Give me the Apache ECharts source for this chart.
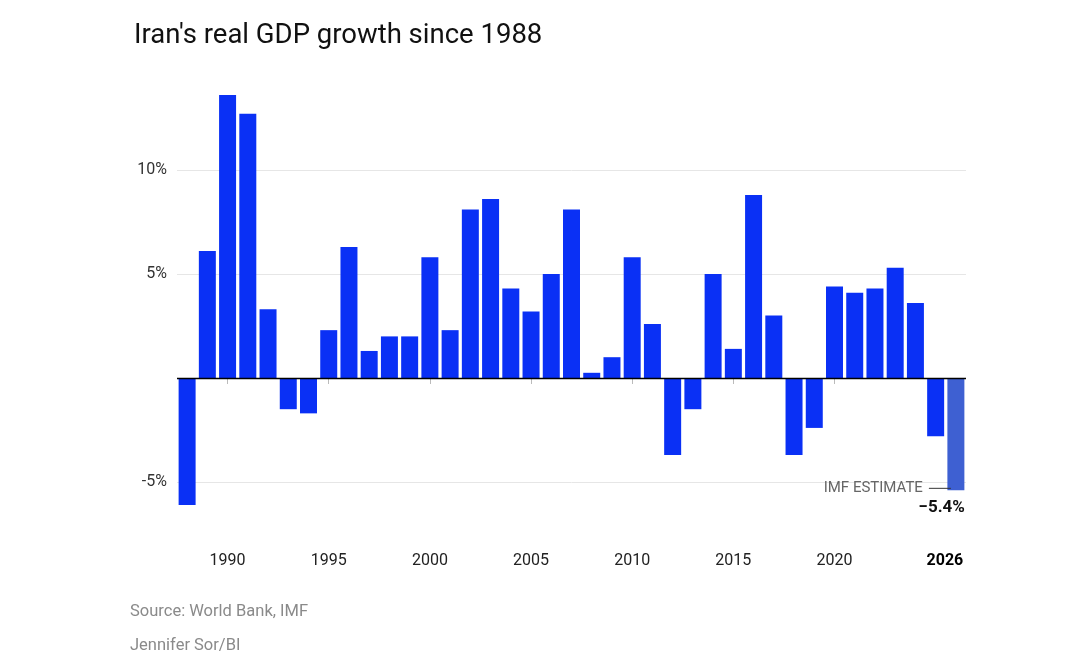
<!DOCTYPE html>
<html>
<head>
<meta charset="utf-8">
<script src="https://cdn.jsdelivr.net/npm/echarts@6/dist/echarts.min.js"></script>
<style>
  html, body { margin: 0; padding: 0; background: #fff; }
  #chart { width: 1067px; height: 656px; }
</style>
</head>
<body>
<div id="chart"></div>
<script>
// Iran real GDP growth, % per year (2026 = IMF estimate)
const years = ['1988', '1989', '1990', '1991', '1992', '1993', '1994', '1995', '1996', '1997',
               '1998', '1999', '2000', '2001', '2002', '2003', '2004', '2005', '2006', '2007',
               '2008', '2009', '2010', '2011', '2012', '2013', '2014', '2015', '2016', '2017',
               '2018', '2019', '2020', '2021', '2022', '2023', '2024', '2025', '2026'];
const growth = [-6.1, 6.1, 13.6, 12.7, 3.3, -1.5, -1.7, 2.3, 6.3, 1.3,
                2.0, 2.0, 5.8, 2.3, 8.1, 8.6, 4.3, 3.2, 5.0, 8.1,
                0.25, 1.0, 5.8, 2.6, -3.7, -1.5, 5.0, 1.4, 8.8, 3.0,
                -3.7, -2.4, 4.4, 4.1, 4.3, 5.3, 3.6, -2.8, -5.4];
const estimateYear = '2026';
const xTickLabels = ['1990', '1995', '2000', '2005', '2010', '2015', '2020', '2026'];
const yTickLabels = [-5, 5, 10];

const BLUE = '#0a30f5';
const EST = '#3e60d2';
const FONT = 'Roboto, "Noto Sans", sans-serif';

const showYear = (i, v) => xTickLabels.indexOf(v) >= 0;

const barData = growth.map((v, i) => {
    if (years[i] !== estimateYear) return v;
    return {
        value: v,
        itemStyle: { color: EST },
        label: {
            show: true,
            position: 'bottom',
            distance: 9,
            align: 'right',
            offset: [9, 0],
            formatter: p => '\u2212' + Math.abs(p.value).toFixed(1) + '%',
            fontFamily: FONT, fontSize: 17, fontWeight: 'bold', color: '#111'
        }
    };
});

const chart = echarts.init(document.getElementById('chart'));
chart.setOption({
    animation: false,
    backgroundColor: '#ffffff',
    title: {
        text: "Iran's real GDP growth since 1988",
        left: 129, top: 17,
        textStyle: { fontFamily: FONT, fontSize: 27.5, fontWeight: 'normal', color: '#111' }
    },
    graphic: [
        { type: 'text', left: 130, top: 603,
          style: { text: 'Source: World Bank, IMF', fontFamily: FONT, fontSize: 16.5, fill: '#8a8a8a' } },
        { type: 'text', left: 130, top: 637,
          style: { text: 'Jennifer Sor/BI', fontFamily: FONT, fontSize: 16.5, fill: '#8a8a8a' } }
    ],
    grid: { left: 177, right: 101, top: 66, bottom: 70 },
    xAxis: {
        type: 'category',
        data: years,
        offset: -50,
        axisLine: { show: false },
        axisTick: {
            show: true, alignWithLabel: true, length: 6,
            interval: showYear,
            lineStyle: { color: '#bbbbbb' }
        },
        axisLabel: {
            interval: showYear,
            margin: 17,
            fontFamily: FONT, fontSize: 16, color: '#222',
            formatter: v => v === estimateYear ? '{b|' + v + '}' : v,
            rich: {
                b: { fontFamily: FONT, fontSize: 16, fontWeight: 'bold', color: '#000', padding: [0, 22, 0, 0] }
            }
        }
    },
    yAxis: {
        type: 'value',
        min: -10, max: 15, interval: 5,
        axisLine: { show: false },
        axisTick: { show: false },
        axisLabel: {
            margin: 10,
            fontFamily: FONT, fontSize: 16, color: '#333',
            formatter: v => yTickLabels.indexOf(v) >= 0 ? v + '%' : ''
        },
        splitLine: {
            lineStyle: {
                color: ['rgba(0,0,0,0)', '#e6e6e6', '#e6e6e6', '#e6e6e6', '#e6e6e6', 'rgba(0,0,0,0)'],
                width: 1
            }
        }
    },
    series: [{
        type: 'bar',
        data: barData,
        barCategoryGap: '16%',
        itemStyle: { color: BLUE },
        markLine: {
            silent: true,
            symbol: 'none',
            label: { show: false },
            lineStyle: { color: '#000', width: 1.3, type: 'solid' },
            data: [{ yAxis: 0 }]
        },
        markPoint: {
            silent: true,
            symbol: 'circle',
            symbolSize: 0,
            data: [{ coord: [estimateYear, growth[years.indexOf(estimateYear)]] }],
            label: {
                show: true,
                position: 'left',
                distance: 5,
                offset: [0, -2],
                formatter: '{t|IMF ESTIMATE}{l|}',
                rich: {
                    t: { fontFamily: FONT, fontSize: 15, color: '#666', padding: [0, 6, 0, 0] },
                    l: { width: 22, height: 1, backgroundColor: '#333' }
                }
            }
        }
    }]
});
</script>
</body>
</html>
